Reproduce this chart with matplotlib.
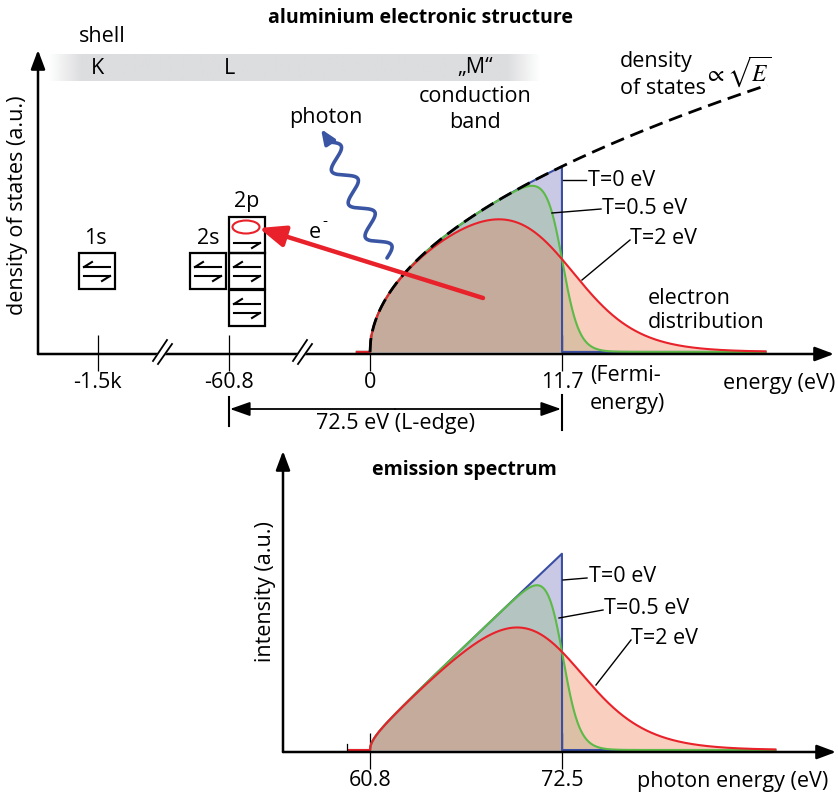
import numpy as np
import matplotlib.pyplot as plt
from matplotlib.patches import Rectangle, Ellipse, Polygon

plt.rcParams['font.family'] = ['Open Sans', 'DejaVu Sans']
plt.rcParams['mathtext.fontset'] = 'stix'

# values
E_fermi = 11.7                      # Fermi energy, eV
L_edge = 60.8                       # 2p binding energy, eV
temps = [0, 0.5, 2]                 # kT in eV
temp_labels = ['T=0 eV', 'T=0.5 eV', 'T=2 eV']
tick_pos = [-16.6, -8.6, 0, E_fermi]    # position on the broken energy axis
tick_labels = ['-1.5k', '-60.8', '0', '11.7']
spec_ticks = [L_edge, L_edge + E_fermi]
spec_labels = ['60.8', '72.5']
shells = ['K', 'L', '\u201eM\u201c']

line_cols = ['#3a4ea2', '#5cba47', '#e8212a']
c_lav, c_grey, c_brown = '#c9c9e6', '#b4c4c1', '#c4ab9b'
c_pink, c_tan = '#f9cfbf', '#dcc0a6'

W, H = 838, 796
PX = 16.41          # px per eV (horizontal)
FS = 15.5


def fermi(E, kT):
    if kT == 0:
        return (E <= E_fermi).astype(float)
    return 1.0 / (1.0 + np.exp((E - E_fermi) / kT))


def draw_bands(ax, E, g, x):
    occ = [g * fermi(E, kT) for kT in temps]
    left = E <= E_fermi
    right = E >= E_fermi
    ax.fill_between(x, 0, occ[0], where=left, color=c_lav, lw=0)
    ax.fill_between(x, 0, occ[1], where=left, color=c_grey, lw=0)
    ax.fill_between(x, 0, occ[2], where=left, color=c_brown, lw=0)
    ax.fill_between(x, 0, occ[2], where=right, color=c_pink, lw=0)
    ax.fill_between(x, 0, occ[1], where=right, color=c_tan, lw=0)
    for o, c in zip(occ, line_cols):
        ax.plot(x, o, color=c, lw=1.5)
    return occ


fig = plt.figure(figsize=(W / 100, H / 100), dpi=100)

# ---- top panel: density of states x Fermi function
ax1 = fig.add_axes([38 / W, 1 - 353 / H, 800 / W, 353 / H])
ax1.set_xlim((38 - 370) / PX, (838 - 370) / PX)
ax1.set_ylim(-0.02, 353 / 54.4)
for s in ax1.spines.values():
    s.set_visible(False)
ax1.set_yticks([])
ax1.set_xticks(tick_pos, tick_labels)
ax1.tick_params(axis='x', direction='inout', length=26, width=0.9,
                labelsize=FS, pad=1)

E = np.linspace(-0.8, 24.1, 3000)
dos = np.sqrt(np.clip(E, 0, None))
draw_bands(ax1, E, dos, E)
Ed = np.linspace(0, 24.2, 600)
ax1.plot(Ed, np.sqrt(Ed), color='black', lw=2, ls=(0, (5, 2.5)))

# ---- bottom panel: emission spectrum
ax2 = fig.add_axes([283 / W, 1 - 751 / H, 555 / W, 299 / H])
ax2.set_xlim(L_edge + (283 - 370) / PX, L_edge + (838 - 370) / PX)
ax2.set_ylim(-0.005, 299 / 197)
for s in ax2.spines.values():
    s.set_visible(False)
ax2.set_yticks([])
ax2.set_xticks(spec_ticks, spec_labels)
ax2.tick_params(axis='x', direction='inout', length=26, width=0.9,
                labelsize=FS, pad=1)
Es = np.linspace(-1.3, 24.7, 3000)
Ep = np.clip(Es, 0, None)
g = np.sqrt(Ep * (Ep + 2)) / np.sqrt(E_fermi * (E_fermi + 2))
draw_bands(ax2, Es, g, Es + L_edge)

# ---- overlay in pixel coordinates for the schematic parts
ov = fig.add_axes([0, 0, 1, 1], facecolor='none')
ov.set_xlim(0, W)
ov.set_ylim(H, 0)
ov.axis('off')


def arrow(x0, y0, x1, y1, lw=1.8, col='black', hw=12, hl=16):
    # hw, hl: full head width and head length in pixels
    ov.annotate('', xy=(x1, y1), xytext=(x0, y0),
                arrowprops=dict(arrowstyle=f'-|>,head_width={hw * 0.036:.3f},'
                                           f'head_length={hl * 0.072:.3f}',
                                lw=lw, color=col, shrinkA=0, shrinkB=0,
                                mutation_scale=10))


# axes arrows
arrow(38, 354, 38, 50)
arrow(38, 354, 834, 354)
arrow(283, 752, 283, 451)
arrow(283, 752, 836, 752)

# axis break marks
for x0 in (153, 293):
    ov.add_patch(Polygon([(x0, 361), (x0 + 14, 340), (x0 + 19, 344), (x0 + 5, 364)],
                         closed=True, color='white', zorder=5))
    ov.plot([x0, x0 + 14], [361, 340], color='black', lw=1.3, zorder=6)
    ov.plot([x0 + 5, x0 + 19], [364, 344], color='black', lw=1.3, zorder=6)

# shell band
grad = np.ones((1, 500))
ramp = np.linspace(0, 1, 35)
grad[0, :35] = ramp
grad[0, -35:] = ramp[::-1]
rgba = np.zeros((1, 500, 4))
rgba[..., :3] = np.array([220, 221, 223]) / 255
rgba[..., 3] = grad
ov.imshow(rgba, extent=(48, 540, 81, 54), aspect='auto', zorder=1)
ov.text(102, 37, 'shell', ha='center', va='center', fontsize=FS)
for sx, sh in zip([97, 229, 475], shells):
    ov.text(sx, 68, sh, ha='center', va='center', fontsize=FS)
ov.text(475, 97, 'conduction', ha='center', va='center', fontsize=FS)
ov.text(475, 123, 'band', ha='center', va='center', fontsize=FS)
ov.text(620, 62, 'density', ha='left', va='center', fontsize=FS)
ov.text(620, 88, 'of states', ha='left', va='center', fontsize=FS)
ov.text(704, 72, r'$\propto\sqrt{E}$', ha='left', va='center', fontsize=17)

# titles and axis labels
ov.text(420, 18, 'aluminium electronic structure', ha='center', va='center',
        fontsize=14, fontweight='bold')
ov.text(464, 470, 'emission spectrum', ha='center', va='center',
        fontsize=14, fontweight='bold')
ov.text(18, 205, 'density of states (a.u.)', ha='center', va='center',
        rotation=90, fontsize=FS)
ov.text(265, 592, 'intensity (a.u.)', ha='center', va='center',
        rotation=90, fontsize=FS)
ov.text(835, 384, 'energy (eV)', ha='right', va='center', fontsize=FS)
ov.text(828, 781, 'photon energy (eV)', ha='right', va='center', fontsize=FS)
ov.text(590, 375, '(Fermi-', ha='left', va='center', fontsize=FS)
ov.text(590, 403, 'energy)', ha='left', va='center', fontsize=FS)
ov.text(648, 298, 'electron', ha='left', va='center', fontsize=FS)
ov.text(648, 323, 'distribution', ha='left', va='center', fontsize=FS)

# L-edge dimension arrow
ov.plot([229, 229], [397, 426], color='black', lw=1.5)
ov.plot([562, 562], [395, 430], color='black', lw=1.5)
arrow(395, 409, 230, 409, lw=1.3, hw=12, hl=17)
arrow(395, 409, 561, 409, lw=1.3, hw=12, hl=17)
ov.text(395, 424, '72.5 eV (L-edge)', ha='center', va='center', fontsize=FS,
        bbox=dict(facecolor='white', edgecolor='none', pad=1))

# temperature labels with leader lines
top_leaders = [((563, 180), (586, 180)), ((552, 213), (601, 209)), ((582, 280), (630, 240))]
bot_leaders = [((563, 580), (587, 578)), ((559, 618), (603, 610)), ((596, 685), (631, 640))]
top_text = [(588, 180), (602, 209), (630, 239)]
bot_text = [(589, 577), (604, 608), (631, 638)]
for leaders, texts in ((top_leaders, top_text), (bot_leaders, bot_text)):
    for (a, b), (tx, ty), lab in zip(leaders, texts, temp_labels):
        ov.plot([a[0], b[0]], [a[1], b[1]], color='black', lw=1)
        ov.text(tx, ty, lab, ha='left', va='center', fontsize=FS)

# small tick at start of spectrum baseline
ov.plot([347, 347], [744, 751], color='black', lw=0.9)


# orbital boxes
def harpoon_pair(cx, cy, single=False):
    if not single:
        ov.plot([cx - 13, cx + 13], [cy - 4, cy - 4], color='black', lw=1.5)
        ov.plot([cx - 13, cx - 5], [cy - 4, cy - 9], color='black', lw=1.5)
    ov.plot([cx - 13, cx + 13], [cy + 5, cy + 5], color='black', lw=1.5)
    ov.plot([cx + 13, cx + 5], [cy + 5, cy + 10], color='black', lw=1.5)


boxes = [(79, 253, False), (190, 253, False), (229, 217, True),
         (229, 253, False), (229, 290, False)]
for bx, by, single in boxes:
    ov.add_patch(Rectangle((bx, by), 36, 36, fill=False, lw=1.6, ec='black'))
    if single:
        harpoon_pair(bx + 18, by + 21, single=True)
    else:
        harpoon_pair(bx + 18, by + 18)
ov.add_patch(Ellipse((246, 227), 27, 13, fill=False, ec='#e8212a', lw=1.5))
ov.text(95, 238, '1s', ha='center', va='center', fontsize=FS)
ov.text(208, 238, '2s', ha='center', va='center', fontsize=FS)
ov.text(247, 201, '2p', ha='center', va='center', fontsize=FS)

# electron transition arrow
arrow(483, 298, 259, 228, lw=3.2, col='#e8212a', hw=18, hl=22)
ov.text(315, 232, 'e', ha='center', va='center', fontsize=FS)
ov.text(325, 222, '-', ha='center', va='center', fontsize=11)

# photon squiggle
p0 = np.array([387.0, 258.0])
p1 = np.array([328.0, 142.0])
d = p1 - p0
L = np.hypot(*d)
u = d / L
n = np.array([-u[1], u[0]])
t = np.linspace(0, 1, 300)
amp = 10 * np.sin(2 * np.pi * 3.5 * t)
pts = p0 + np.outer(t * L, u) + np.outer(amp, n)
ov.plot(pts[:, 0], pts[:, 1], color='#3b55a5', lw=2.6, solid_capstyle='round')
arrow(pts[-3, 0], pts[-3, 1], 321, 129, lw=2.6, col='#3b55a5', hw=10, hl=12)
ov.text(326, 117, 'photon', ha='center', va='center', fontsize=FS)

fig.savefig('out.png', dpi=100)
